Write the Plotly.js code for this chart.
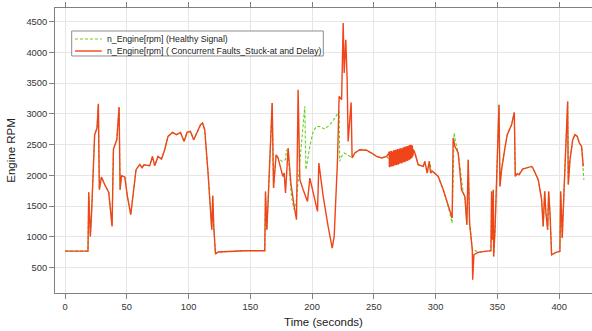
<!DOCTYPE html>
<html>
<head>
<meta charset="utf-8">
<script src="https://cdn.plot.ly/plotly-3.0.1.min.js"></script>
<style>html,body{margin:0;padding:0;background:#fff;}#chart{width:592px;height:331px;}</style>
</head>
<body>
<div id="chart"></div>
<script>
// Healthy signal (time in seconds, engine speed in rpm)
var tHealthy = [0, 18.6, 19.2, 20.5, 21.4, 24, 25.9, 27, 27.8, 29.5, 32.2, 35.4, 38.1, 39.2, 41.9, 43.8, 44.6, 45.7, 48.4, 50.5, 53.2, 55.4, 57.5, 60.5, 62.4, 64, 68.6, 70.8, 72.6, 75.3, 78.1, 80.7, 83.4, 87, 90.2, 93.5, 96.4, 98.8, 101.5, 104.2, 106.9, 109.7, 111.3, 113.1, 115.8, 118, 118.8, 119.6, 120.4, 121.8, 123.9, 145.5, 161.7, 162.3, 163.4, 164.4, 167.7, 168.8, 170.9, 172.5,
  175.8, 178.5, 179.3, 180.6, 183.3, 185.5, 187.4, 194.1, 195, 195.5, 198.2, 200.9, 203.6, 206.3, 210.3, 214.4, 218.4, 221.9, 222.4, 223.9, 226, 229.2, 232.4,
  234.6, 238.6, 244.1, 248.2, 252.2, 256.3, 260.3, 262, 266, 270, 274, 277, 280, 281.5, 283.2, 285.9, 289.9, 291.3, 293.2, 295.3, 296.6, 299.4,
  302.1, 306.2, 310.2, 313.4, 315, 316, 318.3, 321, 322.5, 323.7, 325.3, 326.4, 327.5, 329.7, 331, 334.5, 339.9, 344.8, 345.3, 345.9, 346.7, 347, 348.1, 350.2, 351.3, 352.1, 353.4, 356.1, 358, 361.5, 363.7, 364.5, 366.1, 367.5, 370.5, 377.7, 378.8, 383.1, 385.8, 387.1, 388.3, 389.3, 390.7, 391.5, 392.6, 393.9, 397.9, 400.6, 401.2, 402, 402.5, 404.1, 406.1, 406.9, 407.4, 408.8, 411, 412.8, 414.7, 416.3, 418.2, 420];
var rpmHealthy = [770, 770, 1725, 1009, 1334, 2663, 2772, 3167, 1768, 1975, 1850, 1725, 1172, 2430, 2581, 3113, 1768, 1996, 1975, 1660, 1362, 1768, 2094, 2180, 2126, 2175, 2159, 2310, 2159, 2310, 2268, 2419, 2635, 2700, 2663, 2700, 2554, 2700, 2716, 2581, 2700, 2825, 2853, 2744, 2040, 1334, 1118, 1671, 1172, 723, 755, 777, 777, 1741, 1118, 1578, 3178, 1796, 2337, 2284,
  2229, 2256, 2419, 2338, 1660, 1443, 1606, 3123, 2094, 2147, 2473, 2716, 2798, 2795, 2755, 2825, 2934, 3042, 2230, 2310, 2365, 2330, 2290,
  2365, 2419, 2410, 2365, 2310, 2284, 2310, 2270, 2290, 2300, 2320, 2340, 2390, 2420, 2380, 2175, 2147, 2200, 2040, 2230, 2060, 2040,
  1985, 1768, 1497, 1226, 2690, 2560, 2365, 1950, 1700, 1660, 1199, 2256, 1227, 800, 790, 749, 766, 777, 1741, 955, 1768, 684, 1118, 2635, 3150, 1822, 2094, 2446, 2663, 2825, 3025, 1985, 2029, 2012, 2105, 2147, 2120, 1931, 1606, 1172, 1741, 1389, 1118, 1741, 1389, 711, 755, 766, 1741, 1335, 983, 1822, 2960, 3204, 1850, 2256, 2581, 2663, 2635, 2527, 2473, 1931];

// Faulty signal (concurrent stuck-at and delay faults)
var tFaulty = [0, 18.6, 19.2, 20.5, 21.4, 24, 25.9, 27, 27.8, 29.5, 32.2, 35.4, 38.1, 39.2, 41.9, 43.8, 44.6, 45.7, 48.4, 50.5, 53.2, 55.4, 57.5, 60.5, 62.4, 64, 68.6, 70.8, 72.6, 75.3, 78.1, 80.7, 83.4, 87, 90.2, 93.5, 96.4, 98.8, 101.5, 104.2, 106.9, 109.7, 111.3, 113.1, 115.8, 118, 118.8, 119.6, 120.4, 121.8, 123.9, 145.5, 161.7, 162.3, 163.4, 164.4, 167.7, 168.8, 170.9, 172.5,
  174.1, 176.3, 177.4, 178.5, 180.6, 182.8, 185.5, 187.4, 188.7, 190.1, 192.8, 196.3, 198.2, 200.9, 204.4, 205.5, 209, 213, 216.3, 217.9, 220.6, 221.9, 223.9, 225.2, 226, 227.3, 228.4, 229.2, 230.6, 231.6, 232.4,
  234.6, 238.6, 244.1, 248.2, 252.2, 256.3, 260.3,
  262.0, 262.2, 262.4, 262.6, 262.8, 263.0, 263.2, 263.4, 263.6, 263.8, 264.0, 264.2, 264.4, 264.6, 264.8, 265.0, 265.2, 265.4, 265.6, 265.8,
  266.0, 266.2, 266.4, 266.6, 266.8, 267.0, 267.2, 267.4, 267.6, 267.8, 268.0, 268.2, 268.4, 268.6, 268.8, 269.0, 269.2, 269.4, 269.6, 269.8,
  270.0, 270.2, 270.4, 270.6, 270.8, 271.0, 271.2, 271.4, 271.6, 271.8, 272.0, 272.2, 272.4, 272.6, 272.8, 273.0, 273.2, 273.4, 273.6, 273.8,
  274.0, 274.2, 274.4, 274.6, 274.8, 275.0, 275.2, 275.4, 275.6, 275.8, 276.0, 276.2, 276.4, 276.6, 276.8, 277.0, 277.2, 277.4, 277.6, 277.8,
  278.0, 278.2, 278.4, 278.6, 278.8, 279.0, 279.2, 279.4, 279.6, 279.8, 280.0, 280.2, 280.4, 280.6, 280.8, 281.0, 281.2, 281.4, 281.6, 281.8, 282.0,
  283.2, 285.9, 289.9, 291.3, 293.2, 294.8, 295.9, 297.5, 299.4,
  302.1, 306.2, 310.2, 313.4, 314.2, 315.6, 318.3, 321, 323.7, 325.3, 326.4, 327.5, 329.7, 330, 331, 334.5, 339.9, 344.8, 345.3, 345.9, 346.7, 347, 348.1, 350.2, 351.3, 352.1, 353.4, 356.1, 358, 361.5, 363.7, 364.5, 366.1, 367.5, 370.5, 377.7, 378.8, 383.1, 385.8, 387.1, 388.3, 389.3, 390.7, 391.5, 392.6, 393.9, 397.9, 400.6, 401.2, 402, 402.5, 404.1, 406.1, 406.9, 407.4, 408.8, 411, 412.8, 414.7, 416.3, 418.2, 419.5];
var rpmFaulty = [770, 770, 1725, 1009, 1334, 2663, 2772, 3167, 1768, 1975, 1850, 1725, 1172, 2430, 2581, 3113, 1768, 1996, 1975, 1660, 1362, 1768, 2094, 2180, 2126, 2175, 2159, 2310, 2159, 2310, 2268, 2419, 2635, 2700, 2663, 2700, 2554, 2700, 2716, 2581, 2700, 2825, 2853, 2744, 2040, 1334, 1118, 1671, 1172, 723, 755, 777, 777, 1741, 1118, 1578, 3178, 1796, 2337, 2284,
  2147, 1985, 2040, 1714, 2446, 1877, 1497, 1281, 3394, 1931, 1768, 1578, 1958, 1714, 1416, 2202, 1660, 1172, 820, 1009, 2256, 3286, 3232, 4479, 3666, 4207, 3557, 2554, 2907, 3188, 2284,
  2365, 2419, 2410, 2365, 2310, 2284, 2310,
  2360, 2150, 2385, 2135, 2340, 2170, 2395, 2140, 2350, 2180, 2370, 2145, 2400, 2165, 2360, 2190, 2385, 2150, 2375, 2175,
  2410, 2160, 2365, 2195, 2395, 2170, 2415, 2185, 2370, 2205, 2420, 2165, 2400, 2210, 2385, 2180, 2430, 2200, 2395, 2175,
  2425, 2215, 2400, 2190, 2440, 2205, 2410, 2230, 2395, 2200, 2445, 2225, 2415, 2195, 2435, 2240, 2420, 2210, 2455, 2230,
  2410, 2250, 2445, 2215, 2465, 2240, 2430, 2260, 2450, 2225, 2470, 2255, 2435, 2240, 2475, 2265, 2445, 2235, 2480, 2270,
  2455, 2290, 2485, 2250, 2470, 2285, 2495, 2265, 2460, 2300, 2490, 2275, 2500, 2310, 2470, 2290, 2485, 2320, 2450, 2335, 2420,
  2365, 2175, 2147, 2230, 2040, 2230, 2040, 2070, 2040,
  1985, 1768, 1497, 1308, 2609, 2473, 2365, 1768, 1660, 1199, 2256, 1227, 793, 305, 711, 749, 766, 777, 1741, 955, 1768, 684, 1118, 2635, 3150, 1822, 2094, 2446, 2663, 2825, 3025, 1985, 2029, 2012, 2105, 2147, 2120, 1931, 1606, 1172, 1741, 1389, 1118, 1741, 1389, 711, 755, 766, 1741, 1335, 983, 1822, 2960, 3204, 1850, 2256, 2581, 2663, 2635, 2527, 2473, 2147];

var xTicks = [0, 50, 100, 150, 200, 250, 300, 350, 400];
var yTicks = [500, 1000, 1500, 2000, 2500, 3000, 3500, 4000, 4500];
var nameHealthy = 'n_Engine[rpm] (Healthy Signal)';
var nameFaulty = 'n_Engine[rpm] ( Concurrent Faults_Stuck-at and Delay)';

var greenColor = '#63d21e';
var orangeColor = '#f0441a';
var greenDash = '3px,2px';

var traces = [
  {x: tHealthy, y: rpmHealthy, type: 'scatter', mode: 'lines', name: nameHealthy,
   line: {color: greenColor, width: 1.1, dash: greenDash}},
  {x: tFaulty, y: rpmFaulty, type: 'scatter', mode: 'lines', name: nameFaulty,
   line: {color: orangeColor, width: 1.4}}
];

var font = 'Liberation Sans, Arial, Helvetica, sans-serif';

// Compact legend box drawn in paper coordinates
var lgX0 = 0.0311, lgX1 = 0.4996, lgY0 = 0.8316, lgY1 = 0.9193;
var rowY = [0.8912, 0.8491];
var sampleX0 = 0.0372, sampleX1 = 0.087, textX = 0.094;

var shapes = [
  {type: 'rect', xref: 'paper', yref: 'paper', x0: lgX0, x1: lgX1, y0: lgY0, y1: lgY1,
   line: {color: '#8c8c8c', width: 1}, fillcolor: '#ffffff', layer: 'above'},
  {type: 'line', xref: 'paper', yref: 'paper', x0: sampleX0, x1: sampleX1, y0: rowY[0], y1: rowY[0],
   line: {color: greenColor, width: 1.1, dash: greenDash}, layer: 'above'},
  {type: 'line', xref: 'paper', yref: 'paper', x0: sampleX0, x1: sampleX1, y0: rowY[1], y1: rowY[1],
   line: {color: orangeColor, width: 1.4}, layer: 'above'}
];
var annotations = [
  {xref: 'paper', yref: 'paper', x: textX, y: rowY[0], xanchor: 'left', yanchor: 'middle',
   text: nameHealthy, showarrow: false, font: {family: font, size: 8.7, color: '#222222'}},
  {xref: 'paper', yref: 'paper', x: textX, y: rowY[1], xanchor: 'left', yanchor: 'middle',
   text: nameFaulty, showarrow: false, font: {family: font, size: 8.7, color: '#222222'}}
];

var layout = {
  width: 592, height: 331,
  margin: {l: 55, r: 0, t: 8, b: 38},
  paper_bgcolor: '#ffffff', plot_bgcolor: '#ffffff',
  font: {family: font, color: '#333333', size: 9.3},
  showlegend: false,
  shapes: shapes,
  annotations: annotations,
  xaxis: {
    range: [-8.1, 426.6], tickvals: xTicks, ticktext: xTicks.map(String),
    showline: true, linecolor: '#808080', linewidth: 1, mirror: 'ticks',
    ticks: 'outside', ticklen: 5, tickcolor: '#808080',
    showgrid: true, gridcolor: '#e6e6e6', gridwidth: 1, zeroline: false,
    tickfont: {family: font, size: 9.3, color: '#333333'},
    title: {text: 'Time (seconds)', font: {family: font, size: 11.5, color: '#222222'}, standoff: 6}
  },
  yaxis: {
    range: [89, 4723], tickvals: yTicks, ticktext: yTicks.map(String),
    showline: true, linecolor: '#808080', linewidth: 1, mirror: false,
    ticks: 'outside', ticklen: 5, tickcolor: '#808080',
    showgrid: true, gridcolor: '#e6e6e6', gridwidth: 1, zeroline: false,
    tickfont: {family: font, size: 9.3, color: '#333333'},
    title: {text: 'Engine RPM', font: {family: font, size: 11.5, color: '#222222'}, standoff: 8}
  }
};

Plotly.newPlot('chart', traces, layout, {displayModeBar: false, staticPlot: true});
</script>
</body>
</html>
